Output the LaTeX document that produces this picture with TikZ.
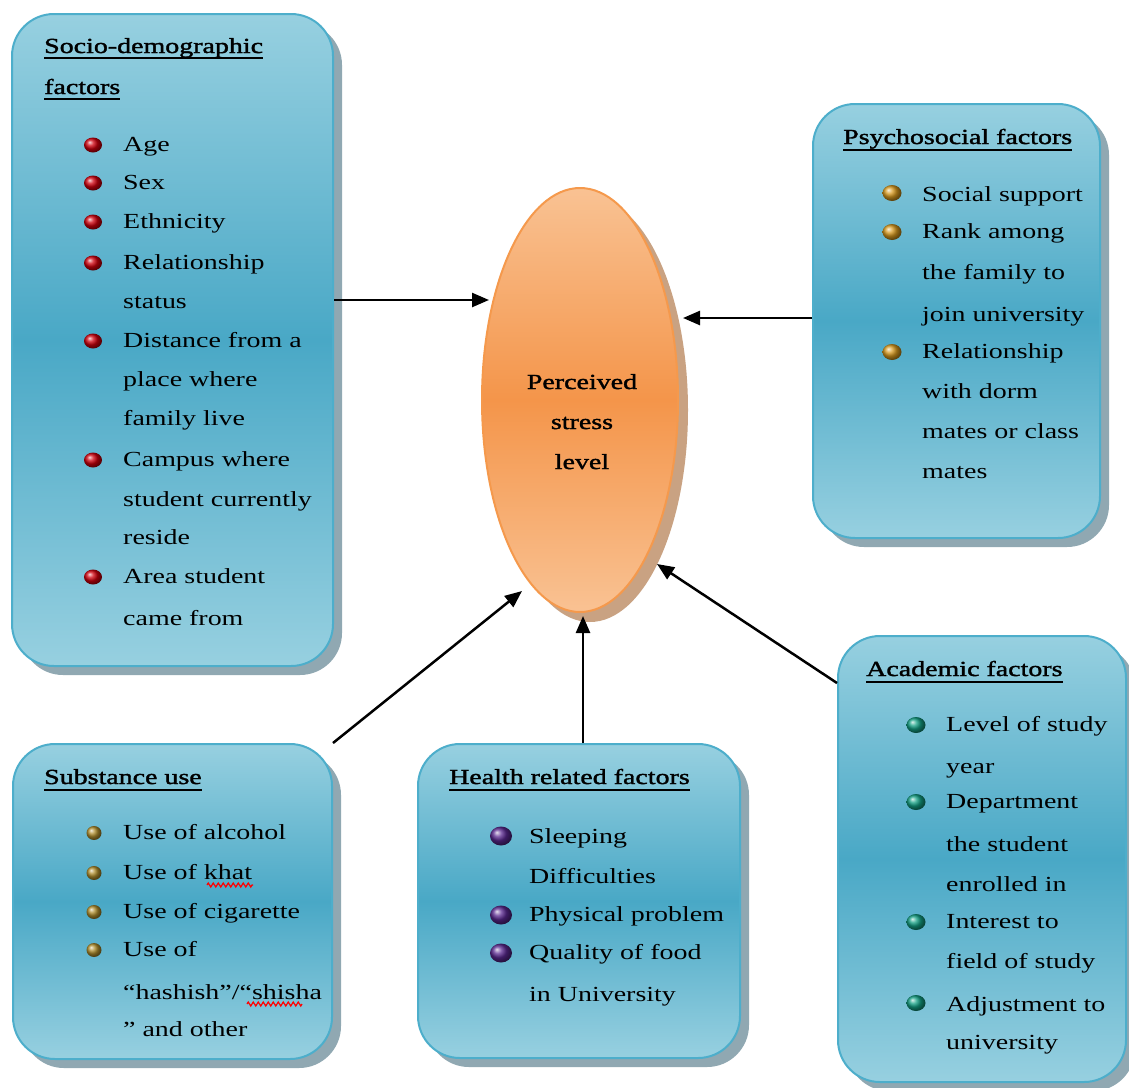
\documentclass[tikz,border=0pt]{standalone}
\usepackage{fontspec}
\setmainfont{Liberation Serif}[FakeStretch=1.3]
\newfontfamily\titlefont{Liberation Serif}[FakeStretch=1.3,FakeBold=1.6]
\usetikzlibrary{shapes.geometric,arrows.meta,shadows,decorations.pathmorphing}
\definecolor{boxlight}{HTML}{97D0E0}
\definecolor{boxdark}{HTML}{49A8C6}
\definecolor{boxborder}{HTML}{4DAECB}
\definecolor{boxshadow}{HTML}{90A8B2}
\definecolor{ovlight}{HTML}{F9C293}
\definecolor{ovdark}{HTML}{F4954A}
\definecolor{ovborder}{HTML}{F5994C}
\definecolor{ovshadow}{HTML}{C9A282}
\definecolor{bred}{HTML}{D0000C}
\definecolor{bgold}{HTML}{D89A1E}
\definecolor{bolive}{HTML}{B08E2C}
\definecolor{bpurple}{HTML}{5A2890}
\definecolor{bteal}{HTML}{12A084}
\tikzset{
  factorbox/.style={draw=boxborder, line width=2pt, rounded corners=42pt,
    top color=boxlight, bottom color=boxlight, middle color=boxdark,
    inner sep=0pt,
    drop shadow={shadow xshift=9pt, shadow yshift=-9pt, fill=boxshadow, opacity=1}},
  stressnode/.style={ellipse, draw=ovborder, line width=2pt,
    top color=ovlight, bottom color=ovlight, middle color=ovdark,
    inner sep=0pt, minimum width=196pt, minimum height=424pt,
    drop shadow={shadow xshift=10pt, shadow yshift=-10pt, fill=ovshadow, opacity=1}},
  txt/.style={anchor=base west, inner sep=0pt, font=\fontsize{21.5}{26}\selectfont},
  ttl/.style={txt, font=\fontsize{21.5}{26}\titlefont},
  ctxt/.style={anchor=base, inner sep=0pt, font=\fontsize{21.5}{26}\titlefont},
  uline/.style={line width=2.3pt},
  arr/.style={line width=2.5pt, -{Triangle[length=17pt,width=14pt]}},
  squiggle/.style={red, line width=1.2pt, decorate, decoration={zigzag, amplitude=2pt, segment length=5pt}},
  bullet/.style={ellipse, shading=ball, ball color=#1, inner sep=0pt}
}
\begin{document}
\begin{tikzpicture}[x=1pt,y=-1pt]
\fill[white] (0,0) rectangle (1129,1087);
\useasboundingbox (0,0) rectangle (1129,1087);

% boxes
\node[factorbox, minimum width=321pt, minimum height=652pt] (sd) at (172.5,340) {};
\node[factorbox, minimum width=287pt, minimum height=434pt] (ps) at (956.5,321) {};
\node[factorbox, minimum width=319pt, minimum height=315pt] (su) at (172.5,901.5) {};
\node[factorbox, minimum width=322pt, minimum height=314pt] (he) at (579,901) {};
\node[factorbox, minimum width=288pt, minimum height=446pt] (ac) at (982,859) {};

% central ellipse
\node[stressnode] (stress) at (580,400) {};
\node[ctxt] (st1) at (582,389) {Perceived};
\node[ctxt] (st2) at (582,429) {stress};
\node[ctxt] (st3) at (582,469) {level};

% Socio-demographic
\node[ttl] (sdt1) at (44,53) {Socio-demographic};
\node[ttl] (sdt2) at (44,94) {factors};
\draw[uline] ([yshift=-5pt]sdt1.base west) -- ([yshift=-5pt]sdt1.base east);
\draw[uline] ([yshift=-5pt]sdt2.base west) -- ([yshift=-5pt]sdt2.base east);
\foreach \t/\y [count=\i] in {Age/145,Sex/183,Ethnicity/222,Relationship/263,status/302,
  Distance from a/341,place where/380,family live/419,Campus where/460,
  student currently/500,reside/538,Area student/577,came from/619}
  \node[txt] (sdi\i) at (123,\y+6) {\t};
\foreach \y [count=\i] in {145,183,222,263,341,460,577}
  \node[bullet=bred, minimum width=18pt, minimum height=15pt] (sdb\i) at (93,\y) {};

% Psychosocial
\node[ttl] (pst) at (843,144) {Psychosocial factors};
\draw[uline] ([yshift=-6pt]pst.base west) -- ([yshift=-6pt]pst.base east);
\foreach \t/\y [count=\i] in {Social support/195,Rank among/232,the family to/273,
  join university/315,Relationship/352,with dorm/392,mates or class/432,mates/472}
  \node[txt] (psi\i) at (922,\y+6) {\t};
\foreach \y [count=\i] in {193,232,352}
  \node[bullet=bgold, minimum width=19pt, minimum height=16pt] (psb\i) at (892,\y) {};

% Substance use
\node[ttl] (sut) at (44,784) {Substance use};
\draw[uline] ([yshift=-6pt]sut.base west) -- ([yshift=-6pt]sut.base east);
\node[txt] (sui1) at (123,839) {Use of alcohol};
\node[txt] (sui2) at (123,879) {Use of khat};
\node[txt] (sui3) at (123,918) {Use of cigarette};
\node[txt] (sui4) at (123,956) {Use of};
\node[txt] (sui5) at (123,999) {“hashish”/“shisha};
\node[txt] (sui6) at (123,1036) {” and other};
\foreach \y [count=\i] in {833,873,912,950}
  \node[bullet=bolive, minimum width=15pt, minimum height=14pt] (sub\i) at (94,\y) {};
\draw[squiggle] (207,885) -- (253,885);
\draw[squiggle] (247,1004) -- (302,1004);

% Health related
\node[ttl] (het) at (449,784) {Health related factors};
\draw[uline] ([yshift=-6pt]het.base west) -- ([yshift=-6pt]het.base east);
\foreach \t/\y [count=\i] in {Sleeping/837,Difficulties/877,Physical problem/915,
  Quality of food/953,in University/995}
  \node[txt] (hei\i) at (529,\y+6) {\t};
\foreach \y [count=\i] in {836,915,953}
  \node[bullet=bpurple, minimum width=22pt, minimum height=19pt] (heb\i) at (501,\y) {};

% Academic
\node[ttl] (act) at (866,676) {Academic factors};
\draw[uline] ([yshift=-6pt]act.base west) -- ([yshift=-6pt]act.base east);
\foreach \t/\y [count=\i] in {Level of study/725,year/767,Department/802,the student/845,
  enrolled in/885,Interest to/922,field of study/962,Adjustment to/1005,university/1043}
  \node[txt] (aci\i) at (946,\y+6) {\t};
\foreach \y [count=\i] in {725,802,922,1003}
  \node[bullet=bteal, minimum width=19pt, minimum height=16pt] (acb\i) at (916,\y) {};

% arrow targets on the ellipse
\coordinate (e1) at (489,300);
\coordinate (e2) at (683,318);
\coordinate (e3) at (522,591);
\coordinate (e4) at (583,616);
\coordinate (e5) at (657,564);

% connectors
\draw[arr] (sd.east |- 0,300) -- (e1);
\draw[arr] (ps.west |- 0,318) -- (e2);
\draw[arr] (su.north east) -- (e3);
\draw[arr] ([xshift=4pt]he.north) -- (e4);
\draw[arr] (ac.west |- 0,683) -- (e5);
\end{tikzpicture}
\end{document}
